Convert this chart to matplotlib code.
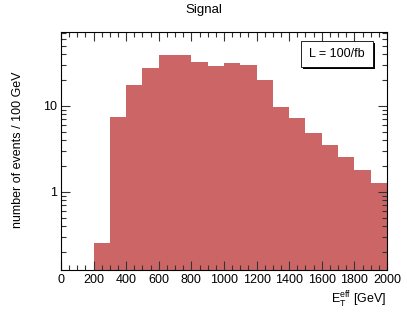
import matplotlib
matplotlib.use("Agg")
import matplotlib.pyplot as plt
import numpy as np
from matplotlib.ticker import MultipleLocator, LogLocator, NullFormatter, FixedLocator
from matplotlib.patches import Rectangle

plt.rcParams["font.family"] = ["Liberation Sans", "DejaVu Sans"]

# histogram: 100 GeV bins from 0 to 2000
bin_edges = list(range(0, 2100, 100))
counts = [0, 0, 0.253, 7.4, 17.5, 27.4, 38.5, 38.9, 32.5, 29.2,
          31.4, 29.4, 20.0, 9.66, 7.2, 4.8, 3.55, 2.55, 1.8, 1.26]

title = "Signal"
ylabel = "number of events / 100 GeV"
xlabel = r"$\mathregular{E_T^{eff}}$ [GeV]"
lumi_text = "L = 100/fb"

fig = plt.figure(figsize=(4.07, 3.18), dpi=100)
ax = fig.add_axes([61 / 407, 48 / 318, 326 / 407, 238 / 318])

ax.stairs(counts, bin_edges, fill=True, color="#cc6666", baseline=1e-3)

ax.set_yscale("log")
ax.set_xlim(0, 2000)
ax.set_ylim(0.124, 72)

ax.xaxis.set_major_locator(MultipleLocator(200))
ax.xaxis.set_minor_locator(MultipleLocator(50))
ax.yaxis.set_major_locator(FixedLocator([1, 10]))
ax.yaxis.set_minor_locator(LogLocator(base=10, subs=np.arange(2, 10)))
ax.yaxis.set_minor_formatter(NullFormatter())
ax.set_yticklabels(["1", "10"])

ax.tick_params(which="both", direction="in", top=True, right=True,
               labelsize=9, width=0.8, pad=3, color="#333333")
ax.tick_params(which="major", length=6.5)
ax.tick_params(which="minor", length=3.5)
for s in ax.spines.values():
    s.set_linewidth(0.8)

fig.text(204 / 407, 1 - 10 / 318, title, ha="center", va="center", fontsize=9.5)
fig.text(18 / 407, 1 - 150 / 318, ylabel, rotation=90, ha="center", va="center",
         fontsize=9)
fig.text(386 / 407, 1 - 300 / 318, xlabel, ha="right", va="center", fontsize=9)

# luminosity box with ROOT-style shadow
shadow = Rectangle((303 / 407, 1 - 69 / 318), 72 / 407, 26 / 318,
                   transform=fig.transFigure, facecolor="black", edgecolor="none",
                   zorder=5)
box = Rectangle((301 / 407, 1 - 67 / 318), 72 / 407, 26 / 318,
                transform=fig.transFigure, facecolor="white", edgecolor="black",
                linewidth=0.6, zorder=6)
fig.patches.extend([shadow, box])
fig.text(337 / 407, 1 - 54 / 318, lumi_text, ha="center", va="center",
         fontsize=9, zorder=7)

fig.savefig("out.png", dpi=100)
